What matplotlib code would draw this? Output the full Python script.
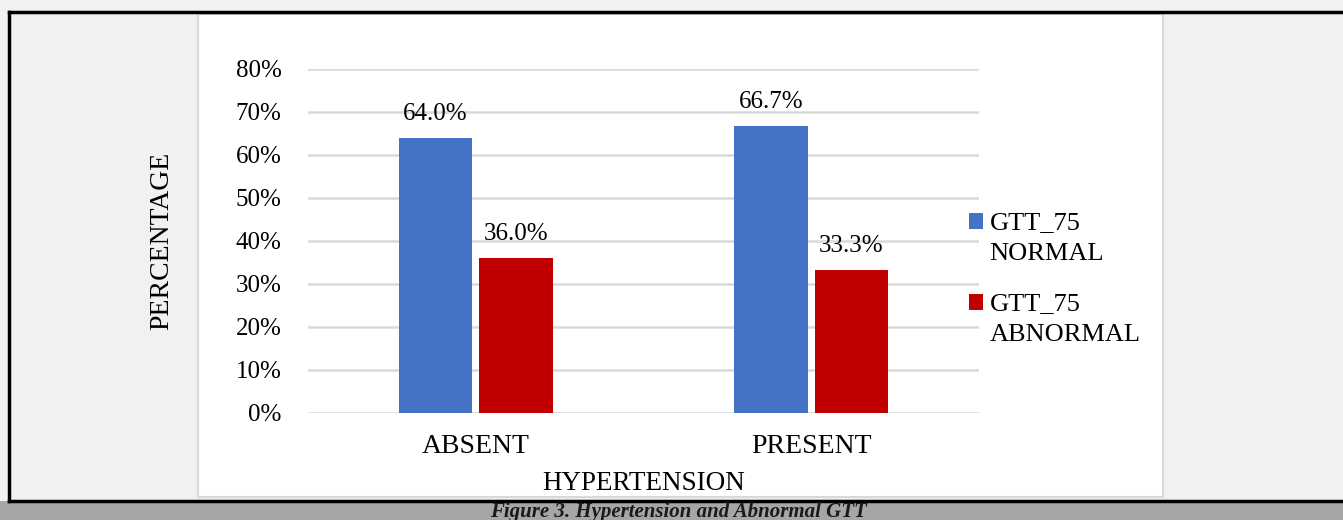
import matplotlib.pyplot as plt
from matplotlib.patches import Rectangle
from matplotlib.lines import Line2D
from matplotlib.legend_handler import HandlerPatch
from matplotlib.container import BarContainer
import numpy as np

categories = ["ABSENT", "PRESENT"]
normal = [0.640, 0.667]
abnormal = [0.360, 0.333]
series_names = ["GTT_75\nNORMAL", "GTT_75\nABNORMAL"]
caption = "Figure 3. Hypertension and Abnormal GTT"

plt.rcParams['font.family'] = ['Liberation Serif', 'DejaVu Serif']

W, H = 1343, 520
fig = plt.figure(figsize=(W / 100, H / 100), dpi=100)
fig.patch.set_facecolor('#f1f1f1')

# page frame, chart box and caption strip (pixel coords -> figure fraction)
def px(x, y):
    return x / W, 1 - y / H

fig.patches.append(Rectangle(px(198, 497), 965 / W, 483 / H, transform=fig.transFigure,
                             fc='white', ec='#d9d9d9', lw=1.5, zorder=-2))
fig.patches.append(Rectangle(px(0, 520), 1, 19 / H, transform=fig.transFigure,
                             fc='#a6a6a6', ec='none', zorder=-2))
fig.lines.append(Line2D([9 / W, 1], [1 - 12 / H] * 2, transform=fig.transFigure, color='black', lw=2.5))
fig.lines.append(Line2D([9 / W] * 2, [1 - 12 / H, 1 - 501 / H], transform=fig.transFigure, color='black', lw=2.5))
fig.lines.append(Line2D([9 / W, 1], [1 - 501 / H] * 2, transform=fig.transFigure, color='black', lw=2.5))
fig.text(678 / W, 1 - 511.5 / H, caption, ha='center', va='center', fontsize=15,
         fontweight='bold', fontstyle='italic', color='#1a1a1a')

ax = fig.add_axes([308 / W, 1 - 412.7 / H, 671 / W, 344 / H])
ax.set_facecolor('none')

x = np.arange(len(categories))
w = 0.218
b1 = ax.bar(x - 0.12, normal, w, color='#4472c4', label=series_names[0], zorder=2)
b2 = ax.bar(x + 0.12, abnormal, w, color='#c00000', label=series_names[1], zorder=2)
for bars, vals in ((b1, normal), (b2, abnormal)):
    ax.bar_label(bars, labels=[f"{v * 100:.1f}%" for v in vals], padding=9, fontsize=18)

ax.set_xlim(-0.5, 1.5)
ax.set_ylim(0, 0.8)
ax.set_yticks(np.arange(0, 0.81, 0.1))
ax.set_yticklabels([f"{int(round(t * 100))}%" for t in np.arange(0, 0.81, 0.1)])
ax.set_xticks(x)
ax.set_xticklabels(categories)
ax.tick_params(length=0, labelsize=18)
ax.tick_params(axis='y', pad=19)
ax.tick_params(axis='x', pad=15, labelsize=20)
ax.grid(axis='y', color='#d9d9d9', lw=1.8, zorder=0)
for s in ax.spines.values():
    s.set_visible(False)

ax.set_xlabel("HYPERTENSION", fontsize=19.5, labelpad=9)
ax.set_ylabel("PERCENTAGE", fontsize=20, labelpad=44)


# legend square sits next to the first line of the two-line label
def top_square(legend, orig_handle, xdescent, ydescent, width, height, fontsize):
    return Rectangle((-xdescent, -ydescent + 12), width, height)


def first_bar(handle, orig):
    handle.update_from(orig.patches[0])


leg = ax.legend(loc='upper left', bbox_to_anchor=(958 / W, 1 - 201 / H), bbox_transform=fig.transFigure,
                frameon=False, fontsize=19, handlelength=0.55, handleheight=0.55,
                handletextpad=0.25, labelspacing=1.05, borderaxespad=0,
                handler_map={BarContainer: HandlerPatch(patch_func=top_square, update_func=first_bar)})
for t in leg.get_texts():
    t.set_linespacing(1.55)

fig.savefig("out.png", dpi=100, facecolor=fig.get_facecolor())
